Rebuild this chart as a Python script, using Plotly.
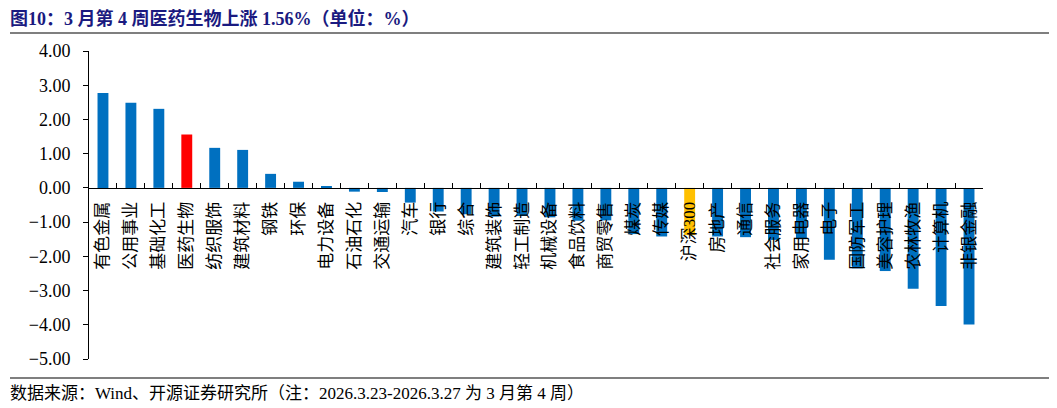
import plotly.graph_objects as go

# ===== 数据 =====
industries = ["有色金属", "公用事业", "基础化工", "医药生物", "纺织服饰", "建筑材料", "钢铁", "环保",
              "电力设备", "石油石化", "交通运输", "汽车", "银行", "综合", "建筑装饰", "轻工制造",
              "机械设备", "食品饮料", "商贸零售", "煤炭", "传媒", "沪深300", "房地产", "通信",
              "社会服务", "家用电器", "电子", "国防军工", "美容护理", "农林牧渔", "计算机", "非银金融"]
weekly_change = [2.77, 2.49, 2.31, 1.56, 1.17, 1.11, 0.41, 0.18,
                 0.05, -0.11, -0.12, -0.43, -0.69, -0.77, -0.84, -0.82,
                 -0.86, -0.96, -0.95, -1.35, -1.42, -1.38, -1.42, -1.44,
                 -1.52, -1.50, -2.10, -2.35, -2.43, -2.95, -3.45, -3.99]

BLUE = "#0070C0"
colors = []
for name in industries:
    if name == "医药生物":
        colors.append("#FF0000")
    elif name == "沪深300":
        colors.append("#FFC000")
    else:
        colors.append(BLUE)

FONT = "Liberation Serif, Noto Sans CJK SC, serif"
Y_MIN, Y_MAX = -5, 4
# 页面 body 有 8px 默认边距，边距里扣掉
L, T, PW, PH = 81, 43, 894, 308
# x轴放在0刻度处
zero_pos = (0 - Y_MIN) / (Y_MAX - Y_MIN)

fig = go.Figure(go.Bar(
    x=industries,
    y=weekly_change,
    marker=dict(color=colors, line=dict(width=0)),
    width=0.39,
))

fig.update_layout(
    width=1057,
    height=408,
    margin=dict(l=L, r=1057 - L - PW, t=T, b=408 - T - PH),
    paper_bgcolor="white",
    plot_bgcolor="white",
    showlegend=False,
    font=dict(family=FONT, color="black"),
)

fig.update_xaxes(
    type="category",
    anchor="free",
    position=zero_pos,
    showline=True,
    linecolor="black",
    linewidth=1,
    ticks="inside",
    ticklen=5,
    tickcolor="black",
    tickson="boundaries",
    tickangle=-90,
    ticklabelstandoff=6,
    tickfont=dict(size=17, family=FONT, color="black"),
    showgrid=False,
    automargin=False,
    range=[-0.5, len(industries) - 0.5],
)

fig.update_yaxes(
    range=[Y_MIN, Y_MAX],
    dtick=1,
    tickformat=".2f",
    showline=True,
    linecolor="black",
    linewidth=1,
    ticks="outside",
    ticklen=5,
    tickcolor="black",
    ticklabelstandoff=9,
    showgrid=False,
    zeroline=False,
    tickfont=dict(size=18, family=FONT, color="black"),
    automargin=False,
)

# 标题、分隔线、数据来源
fig.add_annotation(
    text="<b>图10：3 月第 4 周医药生物上涨 1.56%（单位：%）</b>",
    xref="paper", yref="paper", x=-L / PW, y=1 + 32 / PH,
    xanchor="left", yanchor="middle", showarrow=False,
    font=dict(size=18, color="#1A1A80", family=FONT),
)
fig.add_shape(type="line", xref="paper", yref="paper",
              x0=-(L - 2) / PW, x1=1 + 90 / PW, y0=1 + 18 / PH, y1=1 + 18 / PH,
              line=dict(color="#555555", width=1.5))
fig.add_shape(type="line", xref="paper", yref="paper",
              x0=-(L - 2) / PW, x1=1 + 69 / PW, y0=-19 / PH, y1=-19 / PH,
              line=dict(color="#555555", width=1.5))
fig.add_annotation(
    text="数据来源：Wind、开源证券研究所（注：2026.3.23-2026.3.27 为 3 月第 4 周）",
    xref="paper", yref="paper", x=-L / PW, y=-34 / PH,
    xanchor="left", yanchor="middle", showarrow=False,
    font=dict(size=17, color="black", family=FONT),
)

fig.write_html("out.html")
